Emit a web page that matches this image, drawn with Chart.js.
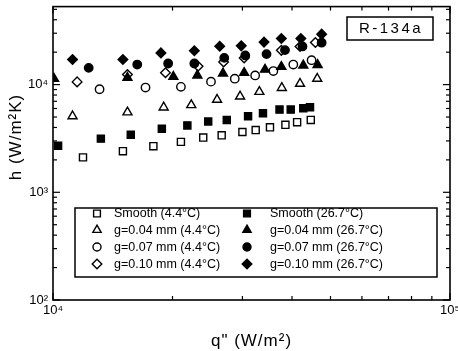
<!DOCTYPE html>
<html>
<head>
<meta charset="utf-8">
<script src="https://cdn.jsdelivr.net/npm/chart.js@4.4.0/dist/chart.umd.min.js"></script>
<style>
  html, body { margin: 0; padding: 0; background: #fff; }
  #wrap { width: 458px; height: 351px; position: relative; }
</style>
</head>
<body>
<div id="wrap"><canvas id="c"></canvas></div>
<script>
// ---- data (heat flux q" in W/m2, heat transfer coefficient h in W/m2K) ----
const qSmooth44 = [11900, 15000, 17900, 21000, 23900, 26600, 30000, 32400, 35200, 38500, 41200, 44600];
const hSmooth44 = [2110, 2410, 2680, 2940, 3220, 3380, 3630, 3780, 4010, 4230, 4480, 4700];

const qSmooth267 = [10300, 13200, 15700, 18800, 21800, 24600, 27400, 31000, 33800, 37200, 39700, 42700, 44400];
const hSmooth267 = [2700, 3150, 3430, 3890, 4180, 4550, 4700, 5090, 5420, 5860, 5860, 6020, 6150];

const qG004_44 = [11200, 15400, 19000, 22300, 25900, 29600, 33100, 37700, 41900, 46300];
const hG004_44 = [5090, 5540, 6150, 6460, 7240, 7760, 8570, 9330, 10200, 11350];

const qG004_267 = [10060, 15400, 20100, 23100, 26800, 30300, 34200, 37600, 42700, 46400];
const hG004_267 = [11350, 11590, 11840, 12170, 12700, 12880, 13800, 14630, 15100, 15250];

const qG007_44 = [13100, 17100, 21000, 25000, 28700, 32300, 35900, 40300, 44800];
const hG007_44 = [9050, 9390, 9530, 10650, 11350, 12170, 13360, 15350, 16850];

const qG007_267 = [12300, 16300, 19500, 22700, 27000, 30500, 34500, 38400, 42500, 47500];
const hG007_267 = [14300, 15350, 15700, 15700, 17700, 18650, 19200, 20900, 22600, 24500];

const qG010_44 = [11500, 15400, 19200, 23200, 26900, 30300, 37600, 41900, 45800];
const hG010_44 = [10600, 12400, 12900, 14800, 16200, 17700, 20800, 22600, 24600];

const qG010_267 = [11200, 15000, 18700, 22700, 26300, 29800, 34000, 37600, 42100, 47500];
const hG010_267 = [17100, 17100, 19700, 20600, 22700, 22900, 24800, 26800, 26800, 29400];

const seriesLabels = [
  'Smooth (4.4°C)', 'Smooth (26.7°C)',
  'g=0.04 mm (4.4°C)', 'g=0.04 mm (26.7°C)',
  'g=0.07 mm (4.4°C)', 'g=0.07 mm (26.7°C)',
  'g=0.10 mm (4.4°C)', 'g=0.10 mm (26.7°C)'
];
const xRange = [1e4, 1e5];
const yRange = [1e2, 5.3e4];
const xTitle = 'q" (W/m²)';
const yTitle = 'h (W/m²K)';
const boxLabel = 'R-134a';

// ---- build datasets ----
const pairs = [
  [qSmooth44, hSmooth44], [qSmooth267, hSmooth267],
  [qG004_44, hG004_44], [qG004_267, hG004_267],
  [qG007_44, hG007_44], [qG007_267, hG007_267],
  [qG010_44, hG010_44], [qG010_267, hG010_267]
];
const styles = ['rect', 'rect', 'triangle', 'triangle', 'circle', 'circle', 'rectRot', 'rectRot'];
const radii = { rect: 5, triangle: 5.2, circle: 4.2, rectRot: 4.8 };

const datasets = pairs.map((p, i) => {
  const filled = i % 2 === 1;
  return {
    label: seriesLabels[i],
    data: p[0].map((q, k) => ({ x: q, y: p[1][k] })),
    pointStyle: styles[i],
    pointRadius: radii[styles[i]],
    pointHoverRadius: radii[styles[i]],
    borderColor: '#000',
    backgroundColor: filled ? '#000' : '#fff',
    borderWidth: 1.4,
    showLine: false
  };
});

const isPow10 = v => Math.abs(Math.log10(v) - Math.round(Math.log10(v))) < 1e-9;
const isNice = v => {
  const e = Math.floor(Math.log10(v) + 1e-9);
  const s = v / Math.pow(10, e);
  return Math.abs(s - Math.round(s)) < 1e-6;
};
const supDigits = { '0': '⁰', '1': '¹', '2': '²', '3': '³', '4': '⁴', '5': '⁵', '6': '⁶', '7': '⁷', '8': '⁸', '9': '⁹' };
const powLabel = v => '10' + String(Math.round(Math.log10(v))).split('').map(d => supDigits[d]).join('');

function drawMarker(ctx, style, r, x, y, filled) {
  ctx.save();
  ctx.fillStyle = filled ? '#000' : '#fff';
  ctx.strokeStyle = '#000';
  ctx.lineWidth = 1.4;
  if (Chart.helpers && Chart.helpers.drawPoint) {
    Chart.helpers.drawPoint(ctx, { pointStyle: style, radius: r, rotation: 0, borderWidth: 1.4 }, x, y);
  } else {
    ctx.beginPath();
    ctx.arc(x, y, r, 0, Math.PI * 2);
    ctx.fill(); ctx.stroke();
  }
  ctx.restore();
}

const decor = {
  id: 'decor',
  afterDatasetsDraw(chart) {
    const { ctx, chartArea: a, scales: { x, y } } = chart;
    ctx.save();
    ctx.strokeStyle = '#000';
    // frame
    ctx.lineWidth = 1.6;
    ctx.strokeRect(a.left, a.top, a.right - a.left, a.bottom - a.top);
    // inward ticks
    ctx.lineWidth = 1.2;
    const seg = (x1, y1, x2, y2) => { ctx.beginPath(); ctx.moveTo(x1, y1); ctx.lineTo(x2, y2); ctx.stroke(); };
    x.ticks.forEach(t => {
      if (!isNice(t.value)) return;
      const p = x.getPixelForValue(t.value);
      const L = isPow10(t.value) ? 7 : 4;
      seg(p, a.bottom, p, a.bottom - L);
      seg(p, a.top, p, a.top + L);
    });
    y.ticks.forEach(t => {
      if (!isNice(t.value)) return;
      const p = y.getPixelForValue(t.value);
      const L = isPow10(t.value) ? 7 : 4;
      seg(a.left, p, a.left + L, p);
      seg(a.right, p, a.right - L, p);
    });

    // axis titles
    ctx.fillStyle = '#000';
    ctx.font = '17px "Liberation Sans", Arial, sans-serif';
    ctx.letterSpacing = '1px';
    ctx.textAlign = 'center';
    ctx.textBaseline = 'middle';
    ctx.fillText(xTitle, (a.left + a.right) / 2, 341);
    ctx.save();
    ctx.translate(16, 137);
    ctx.rotate(-Math.PI / 2);
    ctx.fillText(yTitle, 0, 0);
    ctx.restore();
    ctx.letterSpacing = '0px';

    // R-134a box
    ctx.lineWidth = 1.5;
    ctx.fillStyle = '#fff';
    ctx.fillRect(347, 17, 86, 23);
    ctx.strokeRect(347, 17, 86, 23);
    ctx.fillStyle = '#000';
    ctx.font = '15px "Liberation Sans", Arial, sans-serif';
    ctx.letterSpacing = '2.5px';
    ctx.fillText(boxLabel, 391, 29);
    ctx.letterSpacing = '0px';

    // legend box
    const bx = 75, by = 208, bw = 362, bh = 69;
    ctx.fillStyle = '#fff';
    ctx.fillRect(bx, by, bw, bh);
    ctx.lineWidth = 1.5;
    ctx.strokeRect(bx, by, bw, bh);
    const rowsY = [213.5, 230, 247, 264];
    const colMarkX = [97, 247];
    const colTextX = [114, 270];
    ctx.font = '12.5px "Liberation Sans", Arial, sans-serif';
    ctx.textAlign = 'left';
    ctx.textBaseline = 'middle';
    chart.data.datasets.forEach((ds, i) => {
      const row = Math.floor(i / 2), col = i % 2;
      const yy = rowsY[row];
      const r = ds.pointStyle === 'circle' ? 4 : 4.8;
      drawMarker(ctx, ds.pointStyle, r, colMarkX[col], yy, col === 1);
      ctx.fillStyle = '#000';
      ctx.fillText(ds.label, colTextX[col], yy + 0.5);
    });
    ctx.restore();
  }
};

new Chart(document.getElementById('c'), {
  type: 'scatter',
  data: { datasets },
  options: {
    responsive: true,
    maintainAspectRatio: false,
    animation: false,
    events: [],
    layout: { padding: { top: 3, right: 8, left: 0, bottom: 0 } },
    plugins: { legend: { display: false }, tooltip: { enabled: false } },
    scales: {
      x: {
        type: 'logarithmic',
        min: xRange[0], max: xRange[1],
        grid: { display: false, drawTicks: false },
        border: { display: false },
        ticks: {
          autoSkip: false, maxRotation: 0, padding: 3,
          color: '#000',
          font: { family: '"Liberation Sans", Arial, sans-serif', size: 13 },
          callback: v => isPow10(v) ? powLabel(v) : ''
        },
        afterFit(s) { s.height = 51; s.paddingLeft = 0; s.paddingRight = 0; }
      },
      y: {
        type: 'logarithmic',
        min: yRange[0], max: yRange[1],
        grid: { display: false, drawTicks: false },
        border: { display: false },
        ticks: {
          autoSkip: false, padding: 5,
          color: '#000',
          font: { family: '"Liberation Sans", Arial, sans-serif', size: 13 },
          callback: v => isPow10(v) ? powLabel(v) : ''
        },
        afterFit(s) { s.width = 53; s.paddingTop = 0; s.paddingBottom = 0; }
      }
    }
  },
  plugins: [decor]
});
</script>
</body>
</html>
